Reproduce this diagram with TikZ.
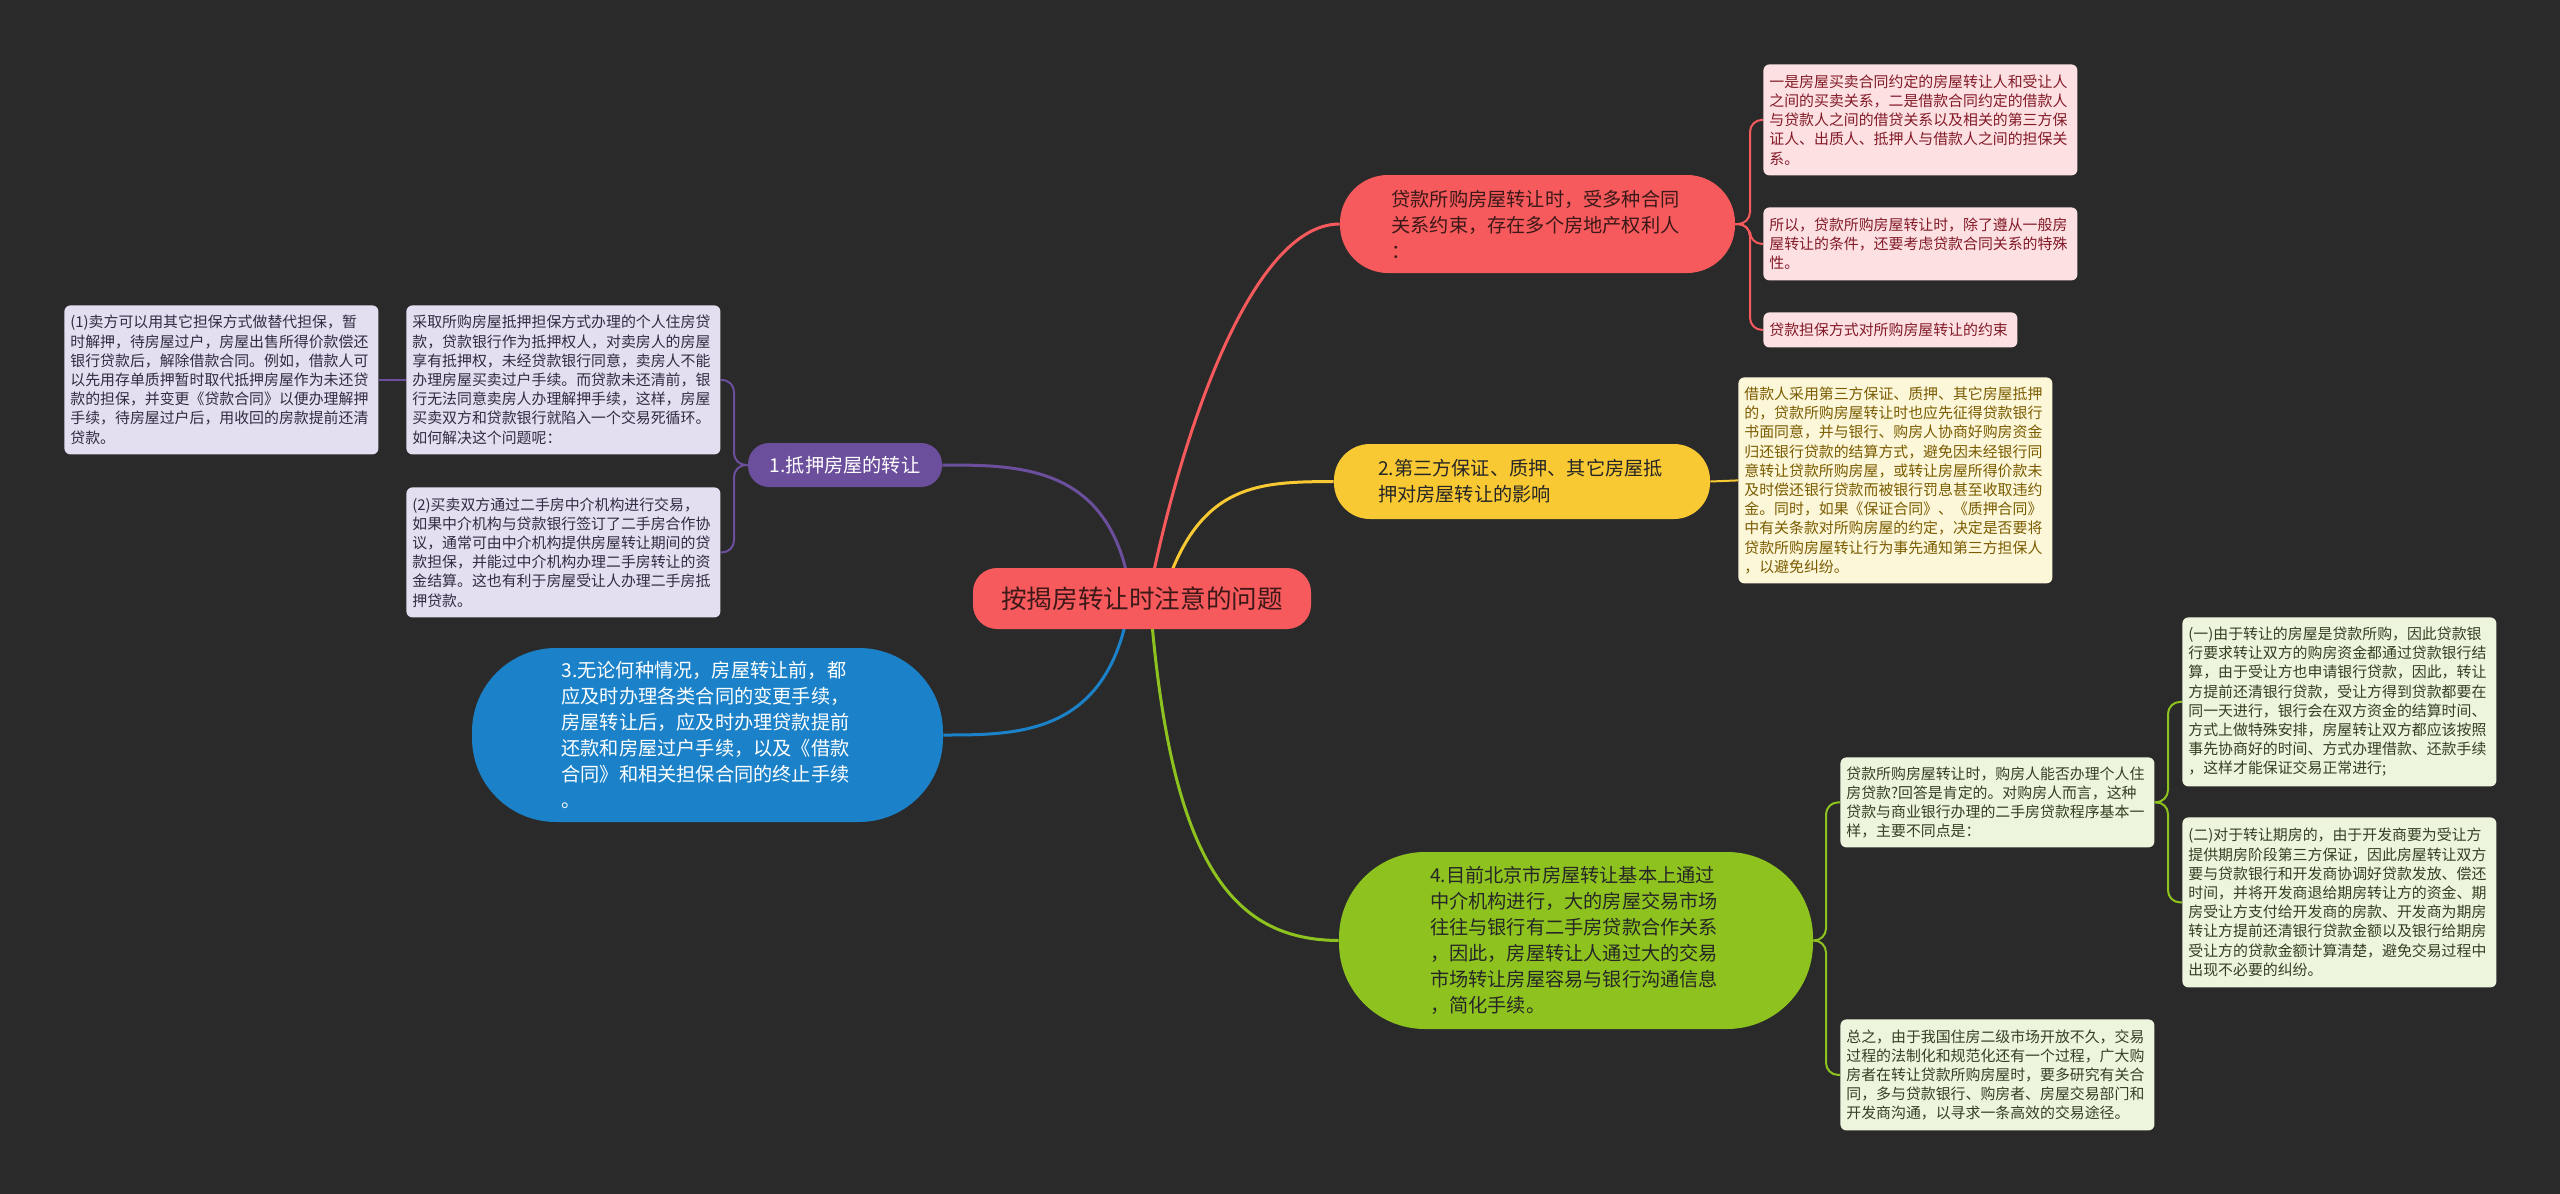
\documentclass[tikz,border=0pt]{standalone}
\usepackage{fontspec}
\setmainfont{Noto Sans CJK SC}
\usetikzlibrary{backgrounds}
\definecolor{bg}{RGB}{42,42,42}
\definecolor{cRed}{RGB}{247,90,92}
\definecolor{cYel}{RGB}{249,201,51}
\definecolor{cBlue}{RGB}{27,130,201}
\definecolor{cGreen}{RGB}{142,195,31}
\definecolor{cPurp}{RGB}{108,79,156}
\definecolor{fPink}{RGB}{253,225,226}
\definecolor{tPink}{RGB}{130,26,40}
\definecolor{fYel}{RGB}{253,247,218}
\definecolor{tYel}{RGB}{122,92,0}
\definecolor{fGreen}{RGB}{238,245,221}
\definecolor{tGreen}{RGB}{52,64,34}
\definecolor{fLav}{RGB}{227,223,240}
\definecolor{tLav}{RGB}{50,44,66}
\definecolor{tDark}{RGB}{60,24,24}
\tikzset{
  smallbox/.style={anchor=north west, rounded corners=3pt, inner xsep=3pt, inner ysep=0pt,
    align=left, text width=151pt, font=\fontsize{7.45}{9.6}\selectfont},
  bignode/.style={inner sep=0pt, align=left, font=\fontsize{9.6}{13}\selectfont},
  link/.style={line width=1.5pt},
  sublink/.style={line width=1pt, rounded corners=6pt},
}
\begin{document}
\begin{tikzpicture}[x=0.5pt,y=-0.5pt]
\useasboundingbox (0,0) rectangle (2560,1194);
% center
\node[bignode, fill=cRed, rounded corners=12pt, minimum width=169pt, minimum height=30.5pt, align=center,
  text=tDark, font=\fontsize{12.8}{15}\selectfont] (root) at (1142,598.5) {按揭房转让时注意的问题};
% branches
\node[bignode, fill=cRed, rounded corners=24pt, minimum width=197.5pt, minimum height=49pt, text width=146pt, text=tDark]
  (b1) at (1537.5,224) {贷款所购房屋转让时，受多种合同\\关系约束，存在多个房地产权利人\\：};
\node[bignode, fill=cYel, rounded corners=18pt, minimum width=188pt, minimum height=37.5pt, text width=144pt, text=black!85]
  (b2) at (1522,481.5) {2.第三方保证、质押、其它房屋抵\\押对房屋转让的影响};
\node[bignode, fill=cBlue, rounded corners=42pt, minimum width=235.5pt, minimum height=87pt, text width=146pt, text=white]
  (b3) at (707.5,735) {3.无论何种情况，房屋转让前，都\\应及时办理各类合同的变更手续，\\房屋转让后，应及时办理贷款提前\\还款和房屋过户手续，以及《借款\\合同》和相关担保合同的终止手续\\。};
\node[bignode, fill=cGreen, rounded corners=43pt, minimum width=237pt, minimum height=88.5pt, text width=146pt, text=black!85]
  (b4) at (1576,940.5) {4.目前北京市房屋转让基本上通过\\中介机构进行，大的房屋交易市场\\往往与银行有二手房贷款合作关系\\，因此，房屋转让人通过大的交易\\市场转让房屋容易与银行沟通信息\\，简化手续。};
\node[bignode, fill=cPurp, rounded corners=10.5pt, minimum width=97pt, minimum height=22pt, align=center, text=white]
  (b5) at (845,465) {1.抵押房屋的转让};
% red children
\node[smallbox, fill=fPink, text=tPink, minimum height=55.5pt] (r1) at (1763,64)
  {一是房屋买卖合同约定的房屋转让人和受让人\\之间的买卖关系，二是借款合同约定的借款人\\与贷款人之间的借贷关系以及相关的第三方保\\证人、出质人、抵押人与借款人之间的担保关\\系。};
\node[smallbox, fill=fPink, text=tPink, minimum height=36.5pt] (r2) at (1763,207)
  {所以，贷款所购房屋转让时，除了遵从一般房\\屋转让的条件，还要考虑贷款合同关系的特殊\\性。};
\node[smallbox, fill=fPink, text=tPink, minimum height=17.5pt, text width=121pt] (r3) at (1763,312)
  {贷款担保方式对所购房屋转让的约束};
% yellow child
\node[smallbox, fill=fYel, text=tYel, minimum height=103pt] (y1) at (1738,377)
  {借款人采用第三方保证、质押、其它房屋抵押\\的，贷款所购房屋转让时也应先征得贷款银行\\书面同意，并与银行、购房人协商好购房资金\\归还银行贷款的结算方式，避免因未经银行同\\意转让贷款所购房屋，或转让房屋所得价款未\\及时偿还银行贷款而被银行罚息甚至收取违约\\金。同时，如果《保证合同》、《质押合同》\\中有关条款对所购房屋的约定，决定是否要将\\贷款所购房屋转让行为事先通知第三方担保人\\，以避免纠纷。};
% green children
\node[smallbox, fill=fGreen, text=tGreen, minimum height=45pt] (g1) at (1840,757)
  {贷款所购房屋转让时，购房人能否办理个人住\\房贷款?回答是肯定的。对购房人而言，这种\\贷款与商业银行办理的二手房贷款程序基本一\\样，主要不同点是：};
\node[smallbox, fill=fGreen, text=tGreen, minimum height=55.5pt] (g2) at (1840,1019)
  {总之，由于我国住房二级市场开放不久，交易\\过程的法制化和规范化还有一个过程，广大购\\房者在转让贷款所购房屋时，要多研究有关合\\同，多与贷款银行、购房者、房屋交易部门和\\开发商沟通，以寻求一条高效的交易途径。};
\node[smallbox, fill=fGreen, text=tGreen, minimum height=84.5pt] (g11) at (2182,617)
  {(一)由于转让的房屋是贷款所购，因此贷款银\\行要求转让双方的购房资金都通过贷款银行结\\算，由于受让方也申请银行贷款，因此，转让\\方提前还清银行贷款，受让方得到贷款都要在\\同一天进行，银行会在双方资金的结算时间、\\方式上做特殊安排，房屋转让双方都应该按照\\事先协商好的时间、方式办理借款、还款手续\\，这样才能保证交易正常进行;};
\node[smallbox, fill=fGreen, text=tGreen, minimum height=85pt] (g12) at (2182,817)
  {(二)对于转让期房的，由于开发商要为受让方\\提供期房阶段第三方保证，因此房屋转让双方\\要与贷款银行和开发商协调好贷款发放、偿还\\时间，并将开发商退给期房转让方的资金、期\\房受让方支付给开发商的房款、开发商为期房\\转让方提前还清银行贷款金额以及银行给期房\\受让方的贷款金额计算清楚，避免交易过程中\\出现不必要的纠纷。};
% purple children
\node[smallbox, fill=fLav, text=tLav, minimum height=74.5pt] (p1) at (406,305)
  {采取所购房屋抵押担保方式办理的个人住房贷\\款，贷款银行作为抵押权人，对卖房人的房屋\\享有抵押权，未经贷款银行同意，卖房人不能\\办理房屋买卖过户手续。而贷款未还清前，银\\行无法同意卖房人办理解押手续，这样，房屋\\买卖双方和贷款银行就陷入一个交易死循环。\\如何解决这个问题呢：};
\node[smallbox, fill=fLav, text=tLav, minimum height=74.5pt] (p11) at (64,305)
  {(1)卖方可以用其它担保方式做替代担保，暂\\时解押，待房屋过户，房屋出售所得价款偿还\\银行贷款后，解除借款合同。例如，借款人可\\以先用存单质押暂时取代抵押房屋作为未还贷\\款的担保，并变更《贷款合同》以便办理解押\\手续，待房屋过户后，用收回的房款提前还清\\贷款。};
\node[smallbox, fill=fLav, text=tLav, minimum height=65pt] (p2) at (406,487)
  {(2)买卖双方通过二手房中介机构进行交易，\\如果中介机构与贷款银行签订了二手房合作协\\议，通常可由中介机构提供房屋转让期间的贷\\款担保，并能过中介机构办理二手房转让的资\\金结算。这也有利于房屋受让人办理二手房抵\\押贷款。};
% connectors on background
\begin{scope}[on background layer]
\fill[bg] (0,0) rectangle (2560,1194);
\draw[link, cRed] (1150,590) .. controls (1180,440) and (1250,224) .. (b1.west);
\draw[link, cYel] (1165,590) .. controls (1200,482) and (1260,482) .. (b2.west);
\draw[link, cPurp] (1130,590) .. controls (1110,465) and (1020,465) .. (b5.east);
\draw[link, cBlue] (1130,600) .. controls (1110,735) and (1020,735) .. (b3.east);
\draw[link, cGreen] (1150,600) .. controls (1170,860) and (1230,940) .. (b4.west);
% sub connectors
\draw[sublink, cRed] (b1.east) -- (1750,224) |- (r1.west);
\draw[sublink, cRed] (b1.east) -- (1750,224) |- (r2.west);
\draw[sublink, cRed] (b1.east) -- (1750,224) |- (r3.west);
\draw[sublink, cYel] (b2.east) -- (y1.west);
\draw[sublink, cGreen] (b4.east) -- (1826,940.5) |- (g1.west);
\draw[sublink, cGreen] (b4.east) -- (1826,940.5) |- (g2.west);
\draw[sublink, cGreen] (g1.east) -- (2168,802) |- (g11.west);
\draw[sublink, cGreen] (g1.east) -- (2168,802) |- (g12.west);
\draw[sublink, cPurp] (b5.west) -- (734,465) |- (p1.east);
\draw[sublink, cPurp] (b5.west) -- (734,465) |- (p2.east);
\draw[sublink, cPurp] (p1.west) -- (p11.east);
\end{scope}
\end{tikzpicture}
\end{document}
